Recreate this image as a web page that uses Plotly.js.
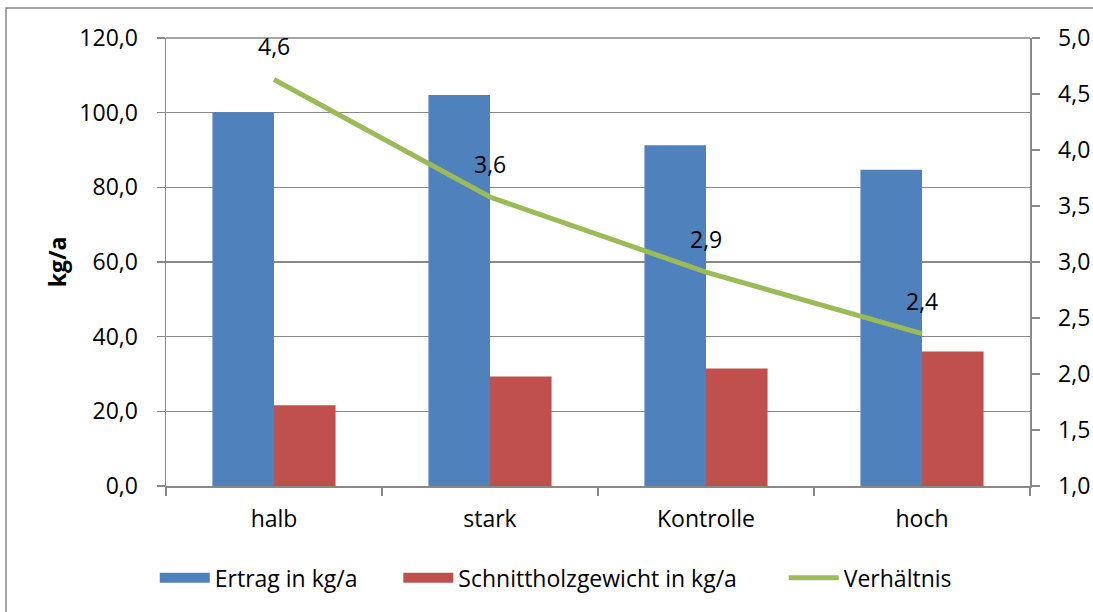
<!DOCTYPE html>
<html>
<head>
<meta charset="utf-8">
<script src="https://cdn.plot.ly/plotly-3.0.1.min.js"></script>
<style>
html,body{margin:0;padding:0;background:#fff;}
#chart{width:1093px;height:612px;}
</style>
</head>
<body>
<div id="chart"></div>
<script>
const categories = ["halb", "stark", "Kontrolle", "hoch"];
const ertrag = [100.1, 104.7, 91.3, 84.7];
const schnittholz = [21.6, 29.3, 31.5, 36.0];
const verhaeltnis = [4.63, 3.58, 2.91, 2.36];
const verhaeltnisLabels = ["4,6", "3,6", "2,9", "2,4"];
const leftTicks = [0, 20, 40, 60, 80, 100, 120];
const rightTicks = [1.0, 1.5, 2.0, 2.5, 3.0, 3.5, 4.0, 4.5, 5.0];
const seriesNames = ["Ertrag in kg/a", "Schnittholzgewicht in kg/a", "Verhältnis"];
const seriesColors = ["#4F81BD", "#C0504D", "#9BBB59"];

const FONT = "Open Sans, Lato, sans-serif";
const FS = 23;
const gridCol = "#888888";
const pad = n => "\u00a0".repeat(n);

const traces = [
  {type: "bar", name: seriesNames[0], x: categories, y: ertrag, showlegend: false,
   marker: {color: seriesColors[0]}, hoverinfo: "skip"},
  {type: "bar", name: seriesNames[1], x: categories, y: schnittholz, showlegend: false,
   marker: {color: seriesColors[1]}, hoverinfo: "skip"},
  {type: "scatter", mode: "lines", name: seriesNames[2], x: categories, y: verhaeltnis,
   yaxis: "y2", line: {color: seriesColors[2], width: 5}, showlegend: false, hoverinfo: "skip"},
  // legend-only entries with wide swatches
  {type: "scatter", mode: "lines", name: seriesNames[0] + pad(6), x: [null], y: [null],
   line: {color: seriesColors[0], width: 15}, hoverinfo: "skip"},
  {type: "scatter", mode: "lines", name: seriesNames[1] + pad(7), x: [null], y: [null],
   line: {color: seriesColors[1], width: 15}, hoverinfo: "skip"},
  {type: "scatter", mode: "lines", name: seriesNames[2], x: [null], y: [null],
   line: {color: seriesColors[2], width: 5}, hoverinfo: "skip"}
];

const annotations = categories.map((c, i) => ({
  x: c, y: verhaeltnis[i], xref: "x", yref: "y2",
  text: verhaeltnisLabels[i], showarrow: false,
  yanchor: "middle", yshift: 33,
  font: {family: FONT, size: FS, color: "#000"}
}));

const layout = {
  width: 1093, height: 612,
  margin: {l: 166, r: 63, t: 38, b: 126, autoexpand: false},
  paper_bgcolor: "#fff", plot_bgcolor: "#fff",
  separators: ", ",
  font: {family: FONT, size: FS, color: "#000"},
  barmode: "group", bargap: 0.43, bargroupgap: 0,
  showlegend: true,
  legend: {orientation: "h", x: -0.013, xanchor: "left", y: -0.205, yanchor: "middle",
           font: {family: FONT, size: FS, color: "#000"}, itemwidth: 50, tracegroupgap: 0,
           traceorder: "normal"},
  xaxis: {type: "category", showline: true, linecolor: gridCol, linewidth: 1.5,
          ticks: "outside", tickson: "boundaries", ticklen: 8, tickcolor: gridCol, tickwidth: 1.5,
          showgrid: false, zeroline: false, fixedrange: true, ticklabelstandoff: 12,
          tickfont: {family: FONT, size: FS}},
  yaxis: {range: [0, 120], tickvals: leftTicks, tickformat: ".1f",
          showline: true, linecolor: gridCol, linewidth: 1.5, mirror: false,
          ticks: "outside", ticklen: 8, tickcolor: gridCol, tickwidth: 1.5,
          showgrid: true, gridcolor: gridCol, gridwidth: 1.5, zeroline: false,
          tickfont: {family: FONT, size: FS}, ticklabelstandoff: 14,
          title: {text: "<b>kg/a</b>", font: {family: FONT, size: FS}, standoff: 6}},
  yaxis2: {range: [1, 5], tickvals: rightTicks, tickformat: ".1f", overlaying: "y", side: "right",
           showline: true, linecolor: gridCol, linewidth: 1.5,
           ticks: "outside", ticklen: 8, tickcolor: gridCol, tickwidth: 1.5,
           showgrid: false, zeroline: false, ticklabelstandoff: 14,
           tickfont: {family: FONT, size: FS}},
  annotations: annotations,
  shapes: [
    {type: "rect", xref: "paper", yref: "paper",
     x0: (6 - 166) / 864, x1: (1100 - 166) / 864,
     y0: 1 + 30 / 448, y1: -(620 - 486) / 448,
     line: {color: "#888888", width: 1.5}, fillcolor: "rgba(0,0,0,0)", layer: "below"},
    {type: "line", xref: "paper", yref: "paper", x0: 0, x1: 1, y0: 1, y1: 1,
     line: {color: gridCol, width: 1.5}}
  ]
};

Plotly.newPlot("chart", traces, layout, {staticPlot: true, displayModeBar: false});
</script>
</body>
</html>
